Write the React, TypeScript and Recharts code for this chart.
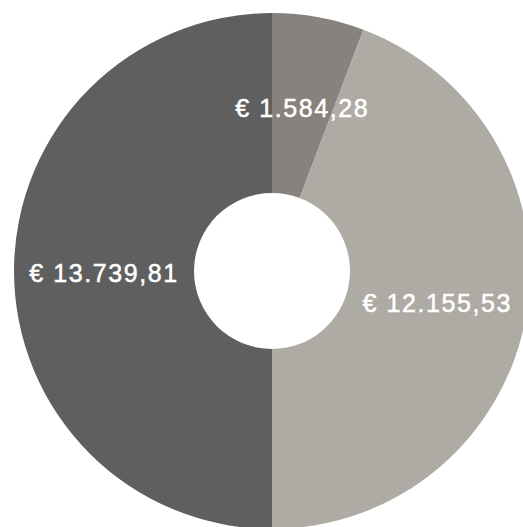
import { PieChart, Pie, Cell } from "recharts";

const categories = ["Deel A", "Deel B", "Deel C"];
const amounts = [1584.28, 12155.53, 13739.81];
const colors = ["#87827d", "#aeaaa4", "#5f5f5f"];

const RADIAN = Math.PI / 180;

function euro(v: number) {
  const [int, dec] = v.toFixed(2).split(".");
  const grouped = int.replace(/\B(?=(\d{3})+(?!\d))/g, ".");
  return `€ ${grouped},${dec}`;
}

function renderLabel(props: any) {
  const { cx, cy, midAngle, innerRadius, outerRadius, value } = props;
  const r = (innerRadius + outerRadius) / 2;
  const x = cx + r * Math.cos(-midAngle * RADIAN);
  const y = cy + r * Math.sin(-midAngle * RADIAN);
  return (
    <text
      x={x}
      y={y + 2}
      fill="#ffffff"
      stroke="#ffffff"
      strokeWidth={0.5}
      textAnchor="middle"
      dominantBaseline="central"
      fontSize={25}
      fontFamily="Liberation Sans, Arial, sans-serif"
      letterSpacing={1.6}
    >
      {euro(value)}
    </text>
  );
}

export default function App() {
  const data = categories.map((name, i) => ({ name, value: amounts[i] }));

  return (
    <div style={{ position: "absolute", left: 0, top: 0 }}>
      <PieChart width={523} height={527} margin={{ top: 0, right: 0, bottom: 0, left: 0 }}>
        <Pie
          data={data}
          dataKey="value"
          nameKey="name"
          cx={272}
          cy={271}
          innerRadius={78}
          outerRadius={258}
          startAngle={90}
          endAngle={-270}
          stroke="none"
          label={renderLabel}
          labelLine={false}
          isAnimationActive={false}
        >
          {data.map((d, i) => (
            <Cell key={d.name} fill={colors[i]} />
          ))}
        </Pie>
      </PieChart>
    </div>
  );
}
